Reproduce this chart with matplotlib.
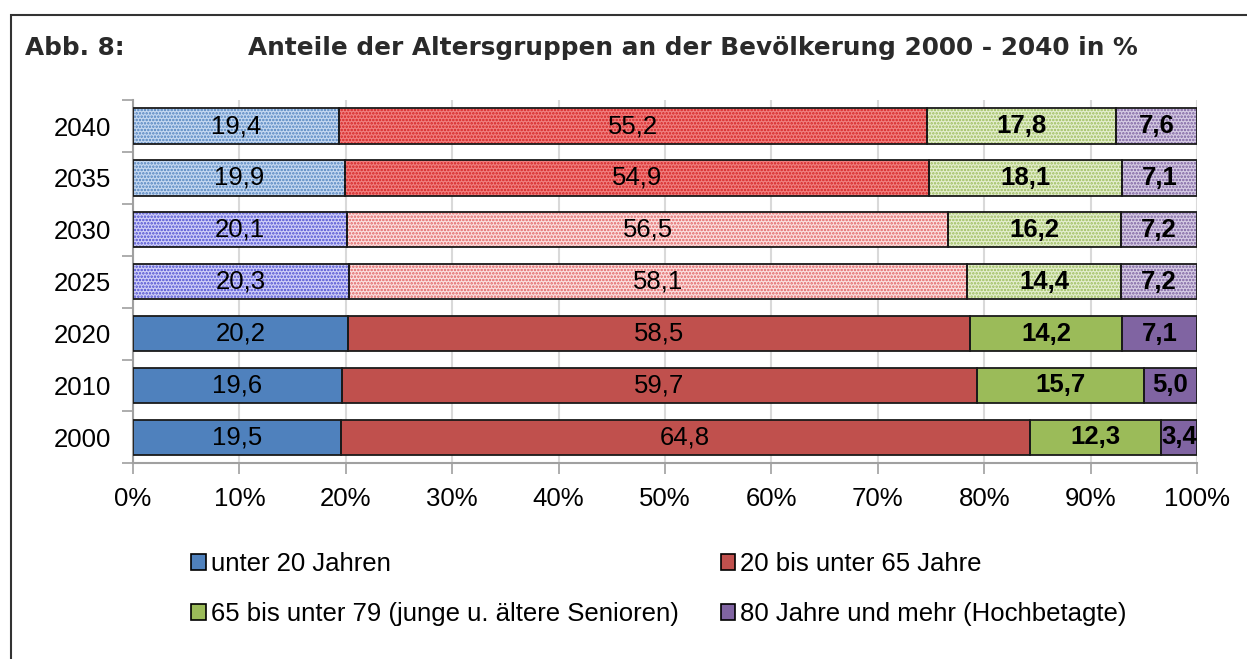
import numpy as np
import matplotlib.pyplot as plt
from matplotlib.patches import Patch, Rectangle

plt.rcParams['font.family'] = ['Liberation Sans', 'DejaVu Sans']
plt.rcParams['hatch.linewidth'] = 1.2

# Daten (Anteile in %)
years = ['2000', '2010', '2020', '2025', '2030', '2035', '2040']
unter20 = [19.5, 19.6, 20.2, 20.3, 20.1, 19.9, 19.4]
von20bis65 = [64.8, 59.7, 58.5, 58.1, 56.5, 54.9, 55.2]
von65bis79 = [12.3, 15.7, 14.2, 14.4, 16.2, 18.1, 17.8]
ab80 = [3.4, 5.0, 7.1, 7.2, 7.2, 7.1, 7.6]

labels = ['unter 20 Jahren', '20 bis unter 65 Jahre',
          '65 bis unter 79 (junge u. ältere Senioren)', '80 Jahre und mehr (Hochbetagte)']
series = [unter20, von20bis65, von65bis79, ab80]
bold = [False, False, True, True]

# Farben: Ist-Werte (solid) und Prognose (gepunktet)
solid = ['#4f81bd', '#c0504d', '#9bbb59', '#8064a2']
# (Grundfarbe, Punktfarbe) je Prognosejahr
proj_a = [('#c6d9f1', '#4f81bd'), ('#f08080', '#d42020'),
          ('#e4eecf', '#9bbb59'), ('#d6cce4', '#7a5f9e')]   # 2035, 2040
proj_b = [('#d0d0f8', '#4a4ad0'), ('#fbe0e0', '#e06060'),
          ('#e4eecf', '#9bbb59'), ('#d6cce4', '#7a5f9e')]   # 2025, 2030

fs = 18.5

fig = plt.figure(figsize=(12.47, 6.59), dpi=100)
ax = fig.add_axes([0.1067, 0.297, 0.8533, 0.551])

y = np.arange(len(years))
h = 0.68
left = np.zeros(len(years))
for k, vals in enumerate(series):
    vals = np.array(vals)
    for i, yr in enumerate(years):
        if yr in ('2035', '2040'):
            fc, hc = proj_a[k]
            ax.barh(y[i], vals[i], left=left[i], height=h, color=fc,
                    edgecolor=hc, hatch='.....', lw=0, zorder=2)
        elif yr in ('2025', '2030'):
            fc, hc = proj_b[k]
            ax.barh(y[i], vals[i], left=left[i], height=h, color=fc,
                    edgecolor=hc, hatch='.....', lw=0, zorder=2)
        else:
            ax.barh(y[i], vals[i], left=left[i], height=h, color=solid[k],
                    lw=0, zorder=2)
        ax.barh(y[i], vals[i], left=left[i], height=h, fill=False,
                edgecolor='#1a1a1a', lw=1.3, zorder=3)
        ax.text(left[i] + vals[i] / 2, y[i], f'{vals[i]:.1f}'.replace('.', ','),
                ha='center', va='center', fontsize=fs,
                fontweight='bold' if bold[k] else 'normal', zorder=4)
    left += vals

ax.set_xlim(0, 100)
ax.set_ylim(-0.5, len(years) - 0.5)
ax.set_xticks(np.arange(0, 101, 10))
ax.set_xticklabels([f'{v}%' for v in range(0, 101, 10)], fontsize=fs)
ax.set_yticks(y)
ax.set_yticklabels(years, fontsize=fs)
ax.set_yticks(np.arange(-0.5, len(years), 1), minor=True)
ax.tick_params(axis='y', which='major', length=0, pad=16)
ax.tick_params(axis='y', which='minor', length=8, color='#a0a0a0', width=1.2)
ax.tick_params(axis='x', length=8, color='#a0a0a0', width=1.2, pad=9)
ax.grid(axis='x', color='#d9d9d9', lw=1.5, zorder=0)
ax.set_axisbelow(True)
for s in ['top', 'right']:
    ax.spines[s].set_visible(False)
for s in ['left', 'bottom']:
    ax.spines[s].set_color('#a0a0a0')
    ax.spines[s].set_linewidth(1.5)

# Legende
handles = [Patch(facecolor=solid[k], edgecolor='black', lw=1.2, label=labels[k]) for k in range(4)]
order = [0, 2, 1, 3]
fig.legend([handles[k] for k in order], [labels[k] for k in order],
           ncol=2, loc='center left', bbox_to_anchor=(0.135, 0.106),
           frameon=False, fontsize=fs, handlelength=0.55, handleheight=0.55,
           handletextpad=0.2, columnspacing=1.65, labelspacing=1.0)

# Titel
fig.text(0.02, 0.927, 'Abb. 8:', fontsize=17.8, fontweight='bold', family='DejaVu Sans',
         color='#2a2a2a', va='center')
fig.text(0.556, 0.927, 'Anteile der Altersgruppen an der Bevölkerung 2000 - 2040 in %',
         fontsize=17.8, fontweight='bold', family='DejaVu Sans', color='#2a2a2a',
         ha='center', va='center')

# Rahmen
fig.add_artist(Rectangle((11 / 1247, -0.1), 1.1, 1.1 - 15 / 659,
                         transform=fig.transFigure, fill=False, ec='#333333', lw=1.5))

fig.savefig('out.png', dpi=100)
